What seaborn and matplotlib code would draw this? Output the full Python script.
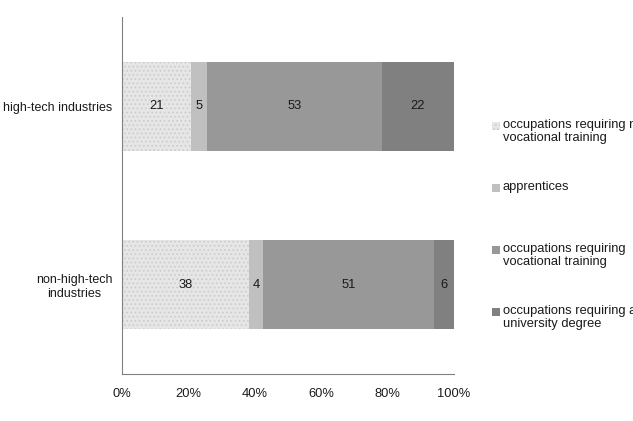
import pandas as pd
import numpy as np
import matplotlib.pyplot as plt
import seaborn as sns
from matplotlib.patches import Rectangle
from matplotlib.ticker import FixedLocator, PercentFormatter

categories = ['high-tech industries', 'non-high-tech\nindustries']
groups = ['occupations requiring no\nvocational training', 'apprentices',
          'occupations requiring\nvocational training', 'occupations requiring a\nuniversity degree']
high_tech = [21, 5, 53, 22]
non_high_tech = [38, 4, 51, 6]
colors = ['#e6e6e6', '#c0c0c0', '#989898', '#808080']
x_ticks = [0, 20, 40, 60, 80, 100]

sns.set_style('white')
plt.rcParams['font.family'] = ['Liberation Sans', 'DejaVu Sans']
plt.rcParams['hatch.linewidth'] = 0.7

values = pd.DataFrame([high_tech, non_high_tech], columns=groups)
values.insert(0, 'industry', categories)
# normalise each row to 100 % (the rounded values don't sum to exactly 100)
shares = values[groups].div(values[groups].sum(axis=1), axis=0) * 100
cums = shares.cumsum(axis=1)
df = pd.concat([values[['industry']], cums], axis=1)

W, H = 633, 421
fig = plt.figure(figsize=(W / 100, H / 100), dpi=100)
ax = fig.add_axes([122 / W, 1 - 374 / H, 332 / W, 357 / H])

# draw cumulative bars from largest to smallest so each segment shows
for i in reversed(range(len(groups))):
    sns.barplot(data=df, x=groups[i], y='industry', orient='h', color=colors[i],
                width=0.5, ax=ax, saturation=1, linewidth=0)

# dotted pattern on the first segment
for p in ax.patches[-2:]:
    p.set_hatch('....')
    p.set_edgecolor('#cbcbcb')
    p.set_linewidth(0)

# segment labels
for r in range(len(categories)):
    left = 0
    raw = values.loc[r, groups].values
    for j, g in enumerate(groups):
        w = shares.loc[r, g]
        ax.text(left + w / 2, r, str(raw[j]), ha='center', va='center', fontsize=9.3, color='#1a1a1a')
        left += w

ax.set_xlim(0, 100)
ax.set_ylim(1.5, -0.5)
ax.set_xticks(x_ticks)
ax.xaxis.set_major_formatter(PercentFormatter(decimals=0))
ax.set_xlabel('')
ax.set_ylabel('')
ax.yaxis.set_minor_locator(FixedLocator([-0.5, 0.5, 1.5]))
ax.tick_params(axis='y', which='major', length=0, labelsize=9, pad=7, labelcolor='#1a1a1a')
ax.tick_params(axis='y', which='minor', length=4, color='#808080', width=1, direction='out')
ax.tick_params(axis='x', length=4, color='#808080', width=1, direction='out', labelsize=9.3,
               pad=6, labelcolor='#1a1a1a')
for lab in ax.get_yticklabels():
    lab.set_multialignment('center')
sns.despine(ax=ax, top=True, right=True)
ax.spines['left'].set_color('#808080')
ax.spines['bottom'].set_color('#808080')

# legend, entries evenly spaced with the marker on the first text line
for i, (g, c) in enumerate(zip(groups, colors)):
    y = 126 + 62 * i
    sq = Rectangle((492 / W, 1 - (y + 4) / H), 8 / W, 8 / H, transform=fig.transFigure,
                   facecolor=c, edgecolor='none')
    if i == 0:
        sq.set_hatch('....')
        sq.set_edgecolor('#cbcbcb')
        sq.set_linewidth(0)
    fig.patches.append(sq)
    fig.text(503 / W, 1 - (y - 7) / H, g, ha='left', va='top', fontsize=9.3,
             color='#1a1a1a', linespacing=1.15)

fig.savefig('out.png', dpi=100)
